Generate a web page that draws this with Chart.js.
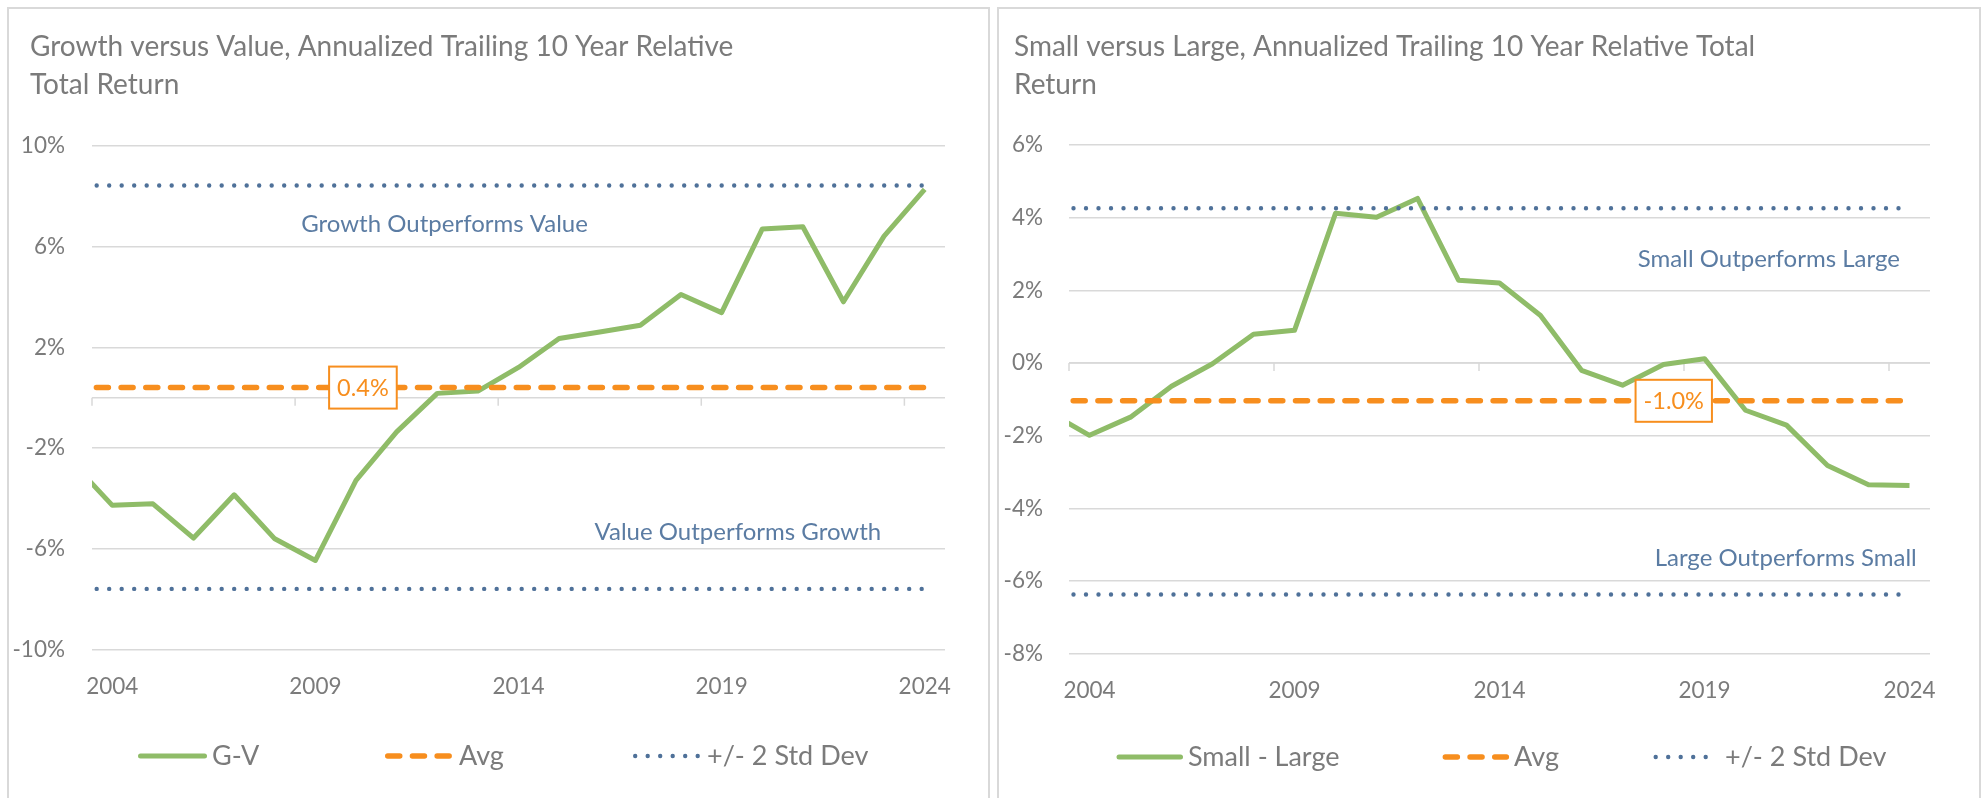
<!DOCTYPE html>
<html>
<head>
<meta charset="utf-8">
<script src="https://cdn.jsdelivr.net/npm/chart.js@4/dist/chart.umd.min.js"></script>
<style>
html, body { margin: 0; padding: 0; background: #ffffff; overflow: hidden; width: 1986px; height: 798px; }
.panel { position: absolute; top: 7px; height: 830px; border: 2px solid #d9d9d9; box-sizing: border-box; background: #ffffff; }
#p1 { left: 7px; width: 983px; }
#p2 { left: 997px; width: 984px; }
canvas { display: block; }
</style>
</head>
<body>
<div class="panel" id="p1"><canvas id="c1" width="979" height="789"></canvas></div>
<div class="panel" id="p2"><canvas id="c2" width="980" height="789"></canvas></div>
<script>
// ---------------- data ----------------
const years = [2003, 2004, 2005, 2006, 2007, 2008, 2009, 2010, 2011, 2012, 2013,
               2014, 2015, 2016, 2017, 2018, 2019, 2020, 2021, 2022, 2023, 2024];
const xTickLabels = [2004, 2009, 2014, 2019, 2024];

// Growth versus Value
const gvTitle = ['Growth versus Value, Annualized Trailing 10 Year Relative', 'Total Return'];
const gvSeriesNames = ['G-V', 'Avg', '+/- 2 Std Dev'];
const gvValues = [-2.56, -4.28, -4.22, -5.58, -3.86, -5.61, -6.47, -3.29, -1.36, 0.17, 0.26,
                  1.20, 2.35, 2.61, 2.88, 4.10, 3.38, 6.70, 6.79, 3.81, 6.42, 8.28];
const gvAverage = 0.4;
const gvUpperBand = 8.43;
const gvLowerBand = -7.60;
const gvYTicks = [-10, -6, -2, 2, 6, 10];
const gvNotes = ['Growth Outperforms Value', 'Value Outperforms Growth'];

// Small versus Large
const slTitle = ['Small versus Large, Annualized Trailing 10 Year Relative Total', 'Return'];
const slSeriesNames = ['Small - Large', 'Avg', '+/- 2 Std Dev'];
const slValues = [-1.35, -1.99, -1.49, -0.64, -0.02, 0.79, 0.90, 4.12, 4.01, 4.53, 2.28,
                  2.20, 1.31, -0.20, -0.61, -0.04, 0.12, -1.30, -1.71, -2.82, -3.35, -3.37];
const slAverage = -1.04;
const slUpperBand = 4.26;
const slLowerBand = -6.37;
const slYTicks = [-8, -6, -4, -2, 0, 2, 4, 6];
const slNotes = ['Small Outperforms Large', 'Large Outperforms Small'];

// ---------------- styles ----------------
const FONT = 'Lato, "Open Sans", sans-serif';
const GREEN = '#8fbc68';
const ORANGE = '#f78e1e';
const BLUE = '#4f7199';
const NOTE_BLUE = '#5b7ca3';
const GRAY_TEXT = '#7b7b7b';
const GRID = '#d9d9d9';

const excelExtras = {
  id: 'excelExtras',
  afterLayout(chart, args, o) {
    // indent the title like the original (title starts right of the panel edge)
    if (chart.titleBlock) {
      chart.titleBlock.left = o.titleX;
    }
  },
  beforeDatasetsDraw(chart, args, o) {
    const { ctx, chartArea: a, scales: { x, y } } = chart;
    const y0 = y.getPixelForValue(0);
    ctx.save();
    ctx.strokeStyle = GRID;
    ctx.lineWidth = 1.5;
    ctx.beginPath();
    ctx.moveTo(a.left, y0);
    ctx.lineTo(a.right, y0);
    xTickLabels.forEach(v => {
      const px = x.getPixelForValue(v - 0.5);
      ctx.moveTo(px, y0);
      ctx.lineTo(px, y0 + 8);
    });
    ctx.stroke();
    ctx.restore();
  },
  afterDatasetsDraw(chart, args, o) {
    const { ctx, scales: { x, y } } = chart;
    ctx.save();
    // region notes
    ctx.font = '24px ' + FONT;
    ctx.fillStyle = NOTE_BLUE;
    ctx.textAlign = 'center';
    ctx.textBaseline = 'middle';
    o.notes.forEach((t, i) => {
      const p = o.notePos[i];
      ctx.fillText(t, x.getPixelForValue(p.x), y.getPixelForValue(p.y));
    });
    // average label box
    const txt = o.avg.toFixed(1) + '%';
    ctx.font = '23.5px ' + FONT;
    const w = ctx.measureText(txt).width + 16;
    const h = 42;
    const lx = x.getPixelForValue(o.avgLabelX);
    const ly = y.getPixelForValue(o.avg);
    ctx.fillStyle = '#ffffff';
    ctx.fillRect(lx - w / 2, ly - h / 2, w, h);
    ctx.strokeStyle = ORANGE;
    ctx.lineWidth = 2;
    ctx.strokeRect(lx - w / 2, ly - h / 2, w, h);
    ctx.fillStyle = ORANGE;
    ctx.fillText(txt, lx, ly + 1);
    ctx.restore();
  },
  afterDraw(chart, args, o) {
    const { ctx } = chart;
    const items = chart.data.datasets.filter(d => !d.hideInLegend);
    ctx.save();
    items.forEach((d, i) => {
      const x0 = o.legendX[i];
      const yl = o.legendY;
      const L = o.legendSample;
      const lw = d.borderWidth;
      ctx.save();
      ctx.strokeStyle = d.borderColor;
      ctx.lineWidth = lw;
      ctx.lineCap = 'round';
      ctx.setLineDash(d.borderDash || []);
      ctx.beginPath();
      ctx.moveTo(x0 + lw / 2, yl);
      ctx.lineTo(x0 + L - lw / 2, yl);
      ctx.stroke();
      ctx.restore();
      ctx.font = '27px ' + FONT;
      ctx.fillStyle = GRAY_TEXT;
      ctx.textAlign = 'left';
      ctx.textBaseline = 'middle';
      ctx.fillText(d.label, x0 + L + 5, yl);
    });
    ctx.restore();
  }
};

function buildChart(id, c) {
  const toPoints = vals => years.map((yr, i) => ({ x: yr, y: vals[i] }));
  const constant = v => years.map(yr => ({ x: yr, y: v }));
  return new Chart(document.getElementById(id), {
    type: 'line',
    data: {
      datasets: [
        { label: c.names[0], data: toPoints(c.values), borderColor: GREEN, backgroundColor: GREEN,
          borderWidth: 5, borderJoinStyle: 'round', pointRadius: 0, clip: 0, order: 4 },
        { label: c.names[1], data: constant(c.avg), borderColor: ORANGE, backgroundColor: ORANGE,
          borderWidth: 5.5, borderDash: [12, 12.7], borderCapStyle: 'round', pointRadius: 0, clip: 0, order: 3 },
        { label: c.names[2], data: constant(c.upper), borderColor: BLUE, backgroundColor: BLUE,
          borderWidth: 4.4, borderDash: [0, 12.5], borderCapStyle: 'round', pointRadius: 0, clip: 0, order: 2 },
        { label: c.names[2], data: constant(c.lower), borderColor: BLUE, backgroundColor: BLUE,
          borderWidth: 4.4, borderDash: [0, 12.5], borderCapStyle: 'round', pointRadius: 0, clip: 0, order: 1,
          hideInLegend: true }
      ]
    },
    options: {
      animation: false,
      responsive: false,
      devicePixelRatio: 1,
      layout: { padding: { left: 0, right: c.padRight, top: 0, bottom: 0 } },
      plugins: {
        legend: { display: false },
        tooltip: { enabled: false },
        title: {
          display: true, text: c.title, align: 'start', color: GRAY_TEXT,
          font: { family: FONT, size: 28, weight: 'normal', lineHeight: 38 / 28 },
          padding: { top: 19, bottom: c.titleBottom }
        },
        excelExtras: {
          titleX: c.titleX,
          notes: c.notes, notePos: c.notePos, avg: c.avg, avgLabelX: c.avgLabelX,
          legendX: c.legendX, legendY: c.legendY, legendSample: c.legendSample
        }
      },
      scales: {
        x: {
          type: 'linear', min: 2003.5, max: 2024.5,
          afterBuildTicks: s => { s.ticks = xTickLabels.map(v => ({ value: v })); },
          afterFit: s => { s.height = c.xAxisHeight; },
          grid: { display: false, drawTicks: false },
          border: { display: false },
          ticks: { color: GRAY_TEXT, font: { family: FONT, size: 22.5 }, padding: 24,
                   maxRotation: 0, autoSkip: false, callback: v => String(v) }
        },
        y: {
          min: c.yMin, max: c.yMax,
          afterBuildTicks: s => { s.ticks = c.yTicks.map(v => ({ value: v })); },
          afterFit: s => { s.width = c.yAxisWidth; },
          grid: { color: GRID, lineWidth: 1.5, drawTicks: false },
          border: { display: false },
          ticks: { color: GRAY_TEXT, font: { family: FONT, size: 22.5 }, padding: c.yPad,
                   autoSkip: false, callback: v => v + '%' }
        }
      }
    },
    plugins: [excelExtras]
  });
}

buildChart('c1', {
  title: gvTitle, names: gvSeriesNames, values: gvValues, avg: gvAverage,
  upper: gvUpperBand, lower: gvLowerBand, yTicks: gvYTicks, yMin: -10, yMax: 10,
  notes: gvNotes, notePos: [{ x: 2012.18, y: 6.88 }, { x: 2019.4, y: -5.35 }],
  avgLabelX: 2010.17, titleX: 21,
  padRight: 43, yAxisWidth: 83, yPad: 27, titleBottom: 42, xAxisHeight: 148.7,
  legendX: [129, 376, 624], legendY: 747, legendSample: 69
});

buildChart('c2', {
  title: slTitle, names: slSeriesNames, values: slValues, avg: slAverage,
  upper: slUpperBand, lower: slLowerBand, yTicks: slYTicks, yMin: -8, yMax: 6,
  notes: slNotes, notePos: [{ x: 2020.57, y: 2.85 }, { x: 2020.98, y: -5.37 }],
  avgLabelX: 2018.25, titleX: 15,
  padRight: 49, yAxisWidth: 70, yPad: 26, titleBottom: 41, xAxisHeight: 144.3,
  legendX: [117.5, 443.6, 654.5], legendY: 748, legendSample: 66.5
});
</script>
</body>
</html>
